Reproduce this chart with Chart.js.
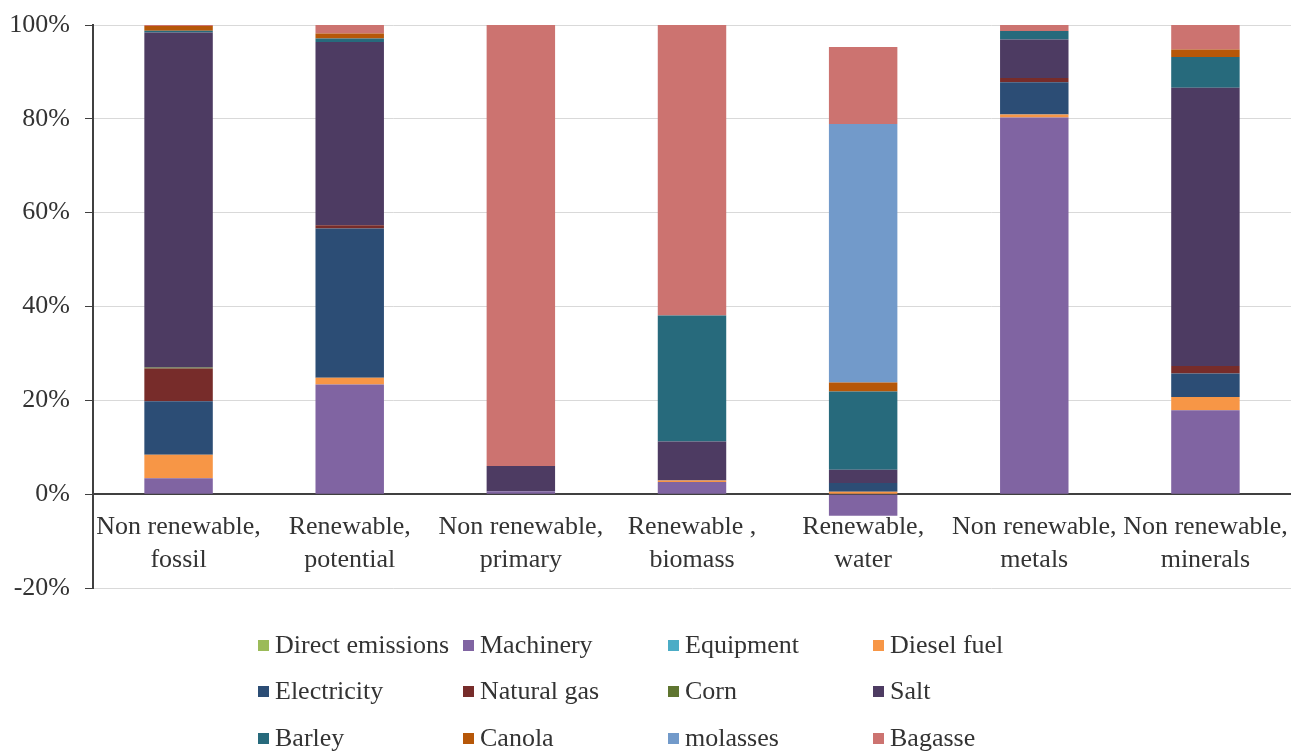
<!DOCTYPE html>
<html>
<head>
<meta charset="utf-8">
<script src="https://cdn.jsdelivr.net/npm/chart.js@4"></script>
<style>
  body { margin: 0; background: #fff; }
  #wrap { position: relative; width: 1291px; height: 751px; }
  #legend { position: absolute; left: 0; top: 0; width: 1291px; height: 751px; pointer-events: none;
    font-family: "Liberation Serif", "Times New Roman", serif; font-size: 26px; color: #333; }
  .item { position: absolute; display: flex; align-items: center; white-space: nowrap; height: 30px; }
  .box { width: 11px; height: 11px; margin-right: 6px; }
</style>
</head>
<body>
<div id="wrap">
  <canvas id="chart"></canvas>
  <div id="legend"></div>
</div>
<script>
// Categories (x axis, two-line labels)
const categories = [
  ['Non renewable,', 'fossil'],
  ['Renewable,', 'potential'],
  ['Non renewable,', 'primary'],
  ['Renewable ,', 'biomass'],
  ['Renewable,', 'water'],
  ['Non renewable,', 'metals'],
  ['Non renewable,', 'minerals']
];

// Series values, % share per category
const directEmissions = [0, 0, 0, 0, 0, 0, 0];
const machinery       = [3.4, 23.4, 0.6, 2.6, -4.6, 80.3, 17.9];
const equipment       = [0, 0, 0, 0, 0, 0, 0];
const dieselFuel      = [5.0, 1.4, 0, 0.3, 0.5, 0.6, 2.8];
const electricity     = [11.4, 31.8, 0, 0, 1.9, 6.9, 5.0];
const naturalGas      = [7.0, 0.7, 0, 0, 0, 0.9, 1.6];
const corn            = [0.2, 0, 0, 0, 0, 0, 0];
const salt            = [71.4, 39.1, 5.4, 8.3, 2.8, 8.2, 59.3];
const barley          = [0.4, 0.7, 0, 26.9, 16.7, 1.8, 6.6];
const canola          = [1.0, 1.1, 0, 0, 1.9, 0, 1.6];
const molasses        = [0, 0, 0, 0, 55.1, 0, 0];
const bagasse         = [0.2, 1.8, 94.0, 61.9, 16.4, 1.3, 5.2];

// Y axis ticks
const yTicks = [-20, 0, 20, 40, 60, 80, 100];

const series = [
  { label: 'Direct emissions', data: directEmissions, color: '#9BBB59' },
  { label: 'Machinery',        data: machinery,       color: '#8064A2' },
  { label: 'Equipment',        data: equipment,       color: '#4BACC6' },
  { label: 'Diesel fuel',      data: dieselFuel,      color: '#F79646' },
  { label: 'Electricity',      data: electricity,     color: '#2C4D75' },
  { label: 'Natural gas',      data: naturalGas,      color: '#772C2A' },
  { label: 'Corn',             data: corn,            color: '#5F7530' },
  { label: 'Salt',             data: salt,            color: '#4D3B62' },
  { label: 'Barley',           data: barley,          color: '#276A7C' },
  { label: 'Canola',           data: canola,          color: '#B65708' },
  { label: 'molasses',         data: molasses,        color: '#729ACA' },
  { label: 'Bagasse',          data: bagasse,         color: '#CC7370' }
];

const fontFamily = '"Liberation Serif", "Times New Roman", serif';

new Chart(document.getElementById('chart').getContext('2d'), {
  type: 'bar',
  data: {
    labels: categories,
    datasets: series.map(s => ({
      label: s.label,
      data: s.data,
      backgroundColor: s.color,
      borderWidth: 0,
      barPercentage: 0.4,
      categoryPercentage: 1
    }))
  },
  options: {
    responsive: true,
    maintainAspectRatio: false,
    animation: false,
    layout: { padding: { top: 25, left: 0, right: 0, bottom: 163 } },
    plugins: {
      legend: { display: false },
      tooltip: { enabled: false }
    },
    scales: {
      x: {
        stacked: true,
        position: { y: 0 },
        grid: { display: false, drawTicks: false },
        border: { display: true, color: '#404040', width: 2 },
        // labels may hang past the plot edges, as in the original
        afterFit: scale => { scale.paddingLeft = 0; scale.paddingRight = 0; },
        ticks: {
          color: '#333',
          padding: 17,
          maxRotation: 0,
          autoSkip: false,
          font: { family: fontFamily, size: 26, lineHeight: 1.25 }
        }
      },
      y: {
        stacked: true,
        min: -20,
        max: 100,
        afterBuildTicks: axis => { axis.ticks = yTicks.map(v => ({ value: v })); },
        // fixed axis width so the plot starts where the original does
        afterFit: scale => { scale.width = 93; scale.paddingTop = 0; scale.paddingBottom = 0; },
        grid: { color: '#d9d9d9', tickColor: '#404040', tickLength: 8, lineWidth: 1 },
        border: { display: true, color: '#404040', width: 2 },
        ticks: {
          color: '#333',
          padding: 15,
          callback: v => v + '%',
          font: { family: fontFamily, size: 26 }
        }
      }
    }
  }
});

// Legend: 3 rows x 4 columns, built from the series list
const legendCols = [258, 463, 668, 873];
const legendRows = [645, 691, 738];
const legendEl = document.getElementById('legend');
series.forEach((s, i) => {
  const item = document.createElement('div');
  item.className = 'item';
  item.style.left = legendCols[i % 4] + 'px';
  item.style.top = (legendRows[Math.floor(i / 4)] - 15) + 'px';
  const box = document.createElement('span');
  box.className = 'box';
  box.style.background = s.color;
  const txt = document.createElement('span');
  txt.textContent = s.label;
  item.appendChild(box);
  item.appendChild(txt);
  legendEl.appendChild(item);
});
</script>
</body>
</html>
